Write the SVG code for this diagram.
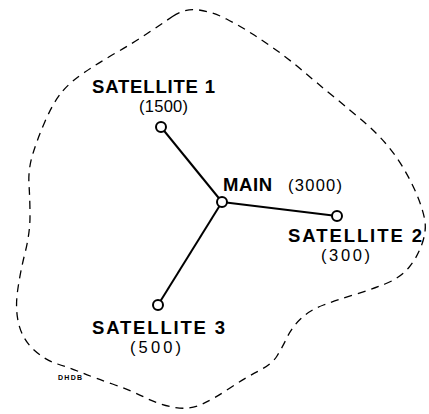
<svg xmlns="http://www.w3.org/2000/svg" width="429" height="414" viewBox="0 0 429 414">
<style>
.b{font-family:"Liberation Sans",Arial,sans-serif;font-weight:bold;font-size:18.5px;fill:#000}
.n{font-family:"Liberation Sans",Arial,sans-serif;font-size:16.5px;fill:#000}
.node{fill:#fff;stroke:#000;stroke-width:2}
.link{stroke:#000;stroke-width:2;fill:none}
.area{fill:none;stroke:#000;stroke-width:1.3;stroke-dasharray:8 6}
</style>
<rect width="429" height="414" fill="#fff"/>
<path class="area" d="M172.5,16.5 Q185,8 199,10 Q213,12 226.5,19 Q240,26 252.5,34 Q265,42 277.5,51 Q290,60 303.5,71.5 Q317,83 333.5,96.5 Q350,110 363.5,121.5 Q377,133 387,145 Q397,157 404.5,170 Q412,183 417,195 Q422,207 424.5,218.5 Q427,230 422,244 Q417,258 408.5,268 Q400,278 385,284 Q370,290 353.5,295 Q337,300 323.5,305 Q310,310 301,318.5 Q292,327 287,337.5 Q282,348 277,356 Q272,364 258.5,371 Q245,378 230,388 Q215,398 202.5,404 Q190,410 175,407.5 Q160,405 145,397.5 Q130,390 112.5,384 Q95,378 82.5,373 Q70,368 57.5,364 Q45,360 34,350 Q23,340 19,325 Q15,310 17.5,291.5 Q20,273 25,253 Q30,233 30,216.5 Q30,200 29,185 Q28,170 32.5,155 Q37,140 45,121.5 Q53,103 61.5,92.5 Q70,82 85,72 Q100,62 116.5,52.5 Q133,43 146.5,34 Q160,25 172.5,16.5 Z"/>
<g id="connectors">
<line class="link" x1="222" y1="202" x2="161" y2="127"/>
<line class="link" x1="222" y1="202" x2="337" y2="216"/>
<line class="link" x1="222" y1="202" x2="158" y2="305"/>
</g>
<g id="main">
<circle class="node" cx="222" cy="202" r="5"/>
<text class="b" x="223" y="191" textLength="49" lengthAdjust="spacing">MAIN</text>
<text class="n" x="288" y="191" textLength="54" lengthAdjust="spacing">(3000)</text>
</g>
<g id="satellite1">
<circle class="node" cx="161" cy="127" r="5"/>
<text class="b" x="92" y="93" textLength="123" lengthAdjust="spacing">SATELLITE 1</text>
<text class="n" x="139" y="112" textLength="49" lengthAdjust="spacing">(1500)</text>
</g>
<g id="satellite2">
<circle class="node" cx="337" cy="216" r="5"/>
<text class="b" x="288" y="242" textLength="134" lengthAdjust="spacing">SATELLITE 2</text>
<text class="n" x="321" y="261" textLength="49" lengthAdjust="spacing">(300)</text>
</g>
<g id="satellite3">
<circle class="node" cx="158" cy="305" r="5"/>
<text class="b" x="92" y="334" textLength="133" lengthAdjust="spacing">SATELLITE 3</text>
<text class="n" x="130" y="353" textLength="51" lengthAdjust="spacing">(500)</text>
</g>
<text x="58" y="380" textLength="24" lengthAdjust="spacing" style="font-family:'Liberation Sans',Arial,sans-serif;font-weight:bold;font-size:7px">DHDB</text>
</svg>
